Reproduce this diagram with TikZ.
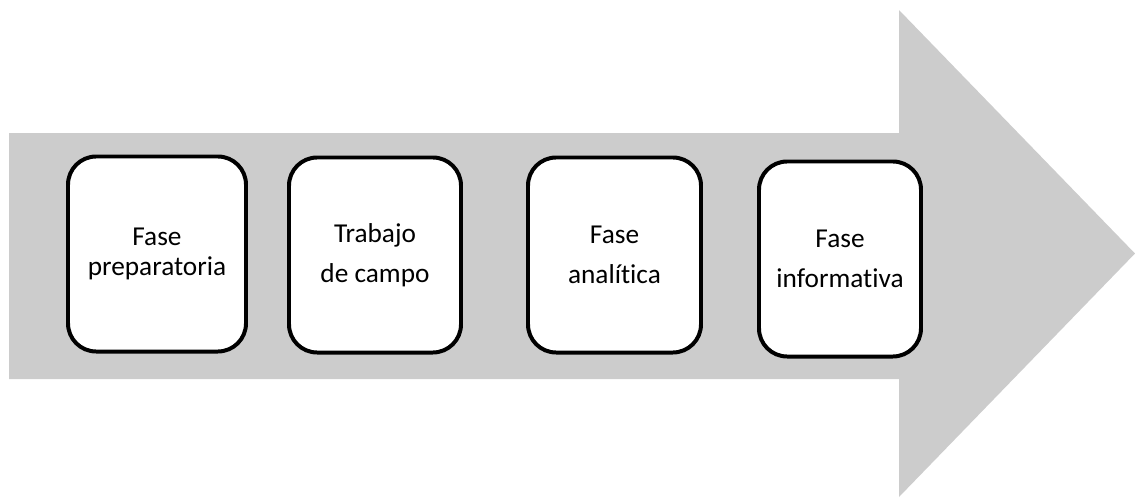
\documentclass[tikz,border=0pt]{standalone}
\usepackage{fontspec}
\setmainfont{Carlito}[Ligatures={NoCommon,NoRare,NoContextual}]
\usepackage{tikz}
\usetikzlibrary{positioning}
\definecolor{arrowgray}{HTML}{CCCCCC}
\tikzset{
    phase element/.style={
        draw,line width=3.4pt,rounded corners=24pt,
        fill=white,
        inner sep=0pt,
        minimum height=5.85cm,
        align=center,
        font=\fontsize{23.3}{34}\selectfont
    }
}

\begin{document}
\begin{tikzpicture}[x=0.03cm,y=-0.03cm]
\useasboundingbox (0,0) rectangle (1135,497);
\fill[arrowgray] (9,133) -- (899,133) -- (899,10) -- (1135,253.5) -- (899,497) -- (899,379) -- (9,379) -- cycle;
\foreach \i/\x/\y/\w/\txt in {1/157/254/178/{Fase\\[-8.5pt]preparatoria},2/375/255/172/{Trabajo\\de campo},3/614.5/255/173/{Fase\\analítica},4/840/259/162/{Fase\\informativa}}
    \node[phase element,minimum width=\w*0.03cm] (phase_\i) at (\x,\y) {\txt};
\end{tikzpicture}
\end{document}
